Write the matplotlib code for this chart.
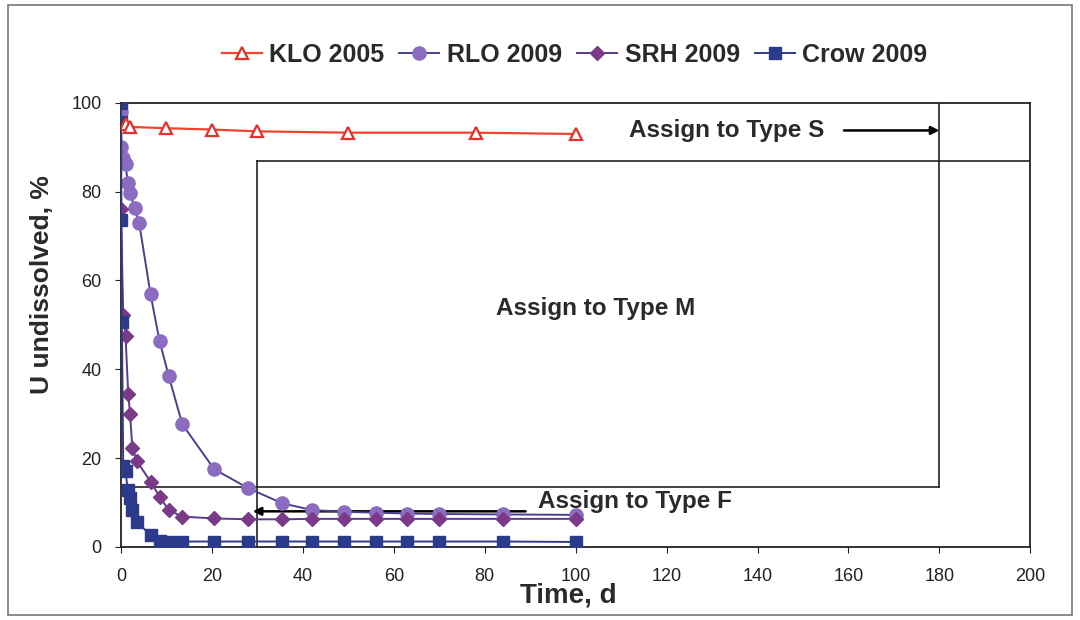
import matplotlib.pyplot as plt
from matplotlib.patches import Rectangle

plt.rcParams['font.family'] = ['Liberation Sans', 'DejaVu Sans']

# KLO 2005
klo_t = [1, 2, 10, 20, 30, 50, 78, 100]
klo_u = [95.2, 94.6, 94.3, 94.0, 93.6, 93.3, 93.3, 93.0]

# RLO 2009
rlo_t = [0, 0.1, 0.5, 1, 1.5, 2, 3, 4, 6.5, 8.5, 10.5, 13.5, 20.5, 28, 35.5,
         42, 49, 56, 63, 70, 84, 100]
rlo_u = [97.9, 90.0, 87.7, 86.2, 82.0, 79.8, 76.4, 73.0, 56.9, 46.3, 38.5, 27.6,
         17.5, 13.2, 9.8, 8.3, 7.9, 7.7, 7.5, 7.4, 7.3, 7.2]

# SRH 2009
srh_t = [0, 0.5, 1, 1.6, 2, 2.5, 3.5, 6.5, 8.5, 10.5, 13.5, 20.5, 28, 35.5,
         42, 49, 56, 63, 70, 84, 100]
srh_u = [76.0, 52.2, 47.6, 34.4, 30.0, 22.3, 19.3, 14.7, 11.3, 8.3, 6.8, 6.4,
         6.2, 6.2, 6.3, 6.3, 6.3, 6.3, 6.3, 6.3, 6.3]

# Crow 2009
crow_t = [0, 0.05, 0.1, 0.2, 0.5, 1, 1.5, 2, 2.5, 3.5, 6.5, 8.5, 10.5, 13.5,
          20.5, 28, 35.5, 42, 49, 56, 63, 70, 84, 100]
crow_u = [100, 95.6, 73.7, 50.6, 18.1, 17.0, 12.8, 11.0, 8.3, 5.7, 2.6, 1.3,
          1.2, 1.2, 1.2, 1.2, 1.2, 1.2, 1.2, 1.2, 1.2, 1.2, 1.2, 1.1]

xticks = [0, 20, 40, 60, 80, 100, 120, 140, 160, 180, 200]
yticks = [0, 20, 40, 60, 80, 100]

fig = plt.figure(figsize=(10.8, 6.2), dpi=100)
ax = fig.add_axes([0.112, 0.118, 0.842, 0.716])

ax.plot(klo_t, klo_u, color='#f0442c', lw=1.6, marker='^', ms=9,
        mfc='white', mec='#e8302a', mew=1.6, label='KLO 2005', zorder=5)
ax.plot(rlo_t, rlo_u, color='#4a3f8e', lw=1.4, marker='o', ms=9.5,
        mfc='#8c6cc0', mec='#8c6cc0', label='RLO 2009', zorder=4)
ax.plot(srh_t, srh_u, color='#5a3a8c', lw=1.4, marker='D', ms=7.5,
        mfc='#7a3a88', mec='#7a3a88', label='SRH 2009', zorder=4)
ax.plot(crow_t, crow_u, color='#2f3a8e', lw=1.4, marker='s', ms=8.5,
        mfc='#2c3a8c', mec='#2c3a8c', label='Crow 2009', zorder=4)

# classification boxes
lc = '#222222'
ax.plot([30, 200], [87, 87], color=lc, lw=1.2)
ax.plot([180, 180], [100, 13.4], color=lc, lw=1.2)
ax.plot([0, 180], [13.4, 13.4], color=lc, lw=1.2)
ax.plot([30, 30], [87, 0], color=lc, lw=1.2)

ax.annotate('', xy=(180, 93.8), xytext=(159, 93.8),
            arrowprops=dict(arrowstyle='-|>', color='black', lw=1.8,
                            mutation_scale=12, shrinkA=0, shrinkB=0))
ax.annotate('', xy=(29, 8.0), xytext=(89, 8.0),
            arrowprops=dict(arrowstyle='-|>', color='black', lw=1.8,
                            mutation_scale=12, shrinkA=0, shrinkB=0))
tc = '#2a2a2a'
ax.text(133.3, 93.8, 'Assign to Type S', fontsize=17.5, fontweight='bold',
        color=tc, ha='center', va='center')
ax.text(104.5, 53.8, 'Assign to Type M', fontsize=17.5, fontweight='bold',
        color=tc, ha='center', va='center')
ax.text(113, 10.2, 'Assign to Type F', fontsize=17.5, fontweight='bold',
        color=tc, ha='center', va='center')

ax.set_xlim(0, 200)
ax.set_ylim(0, 100)
ax.set_xticks(xticks)
ax.set_yticks(yticks)
ax.tick_params(labelsize=13, length=4, direction='out', colors='#222222')
ax.tick_params(axis='x', pad=11)
ax.tick_params(axis='y', pad=10)
for s in ax.spines.values():
    s.set_color('#222222')
    s.set_linewidth(1.3)
ax.set_xlabel('Time, d', fontsize=20, fontweight='bold', color=tc, va='center')
ax.xaxis.set_label_coords(0.492, -0.11)
ax.set_ylabel('U undissolved, %', fontsize=19, fontweight='bold', color=tc, va='center')
ax.yaxis.set_label_coords(-0.087, 0.59)

fig.legend(loc='center', bbox_to_anchor=(0.532, 0.911), ncol=4, frameon=False,
           prop={'size': 18, 'weight': 'bold'}, handlelength=1.6,
           handletextpad=0.3, columnspacing=0.6, labelcolor=tc)

fig.patches.append(Rectangle((0.007, 0.008), 0.986, 0.984, transform=fig.transFigure,
                             fill=False, edgecolor='#777777', lw=1.2))

fig.savefig('out.png', dpi=100)
